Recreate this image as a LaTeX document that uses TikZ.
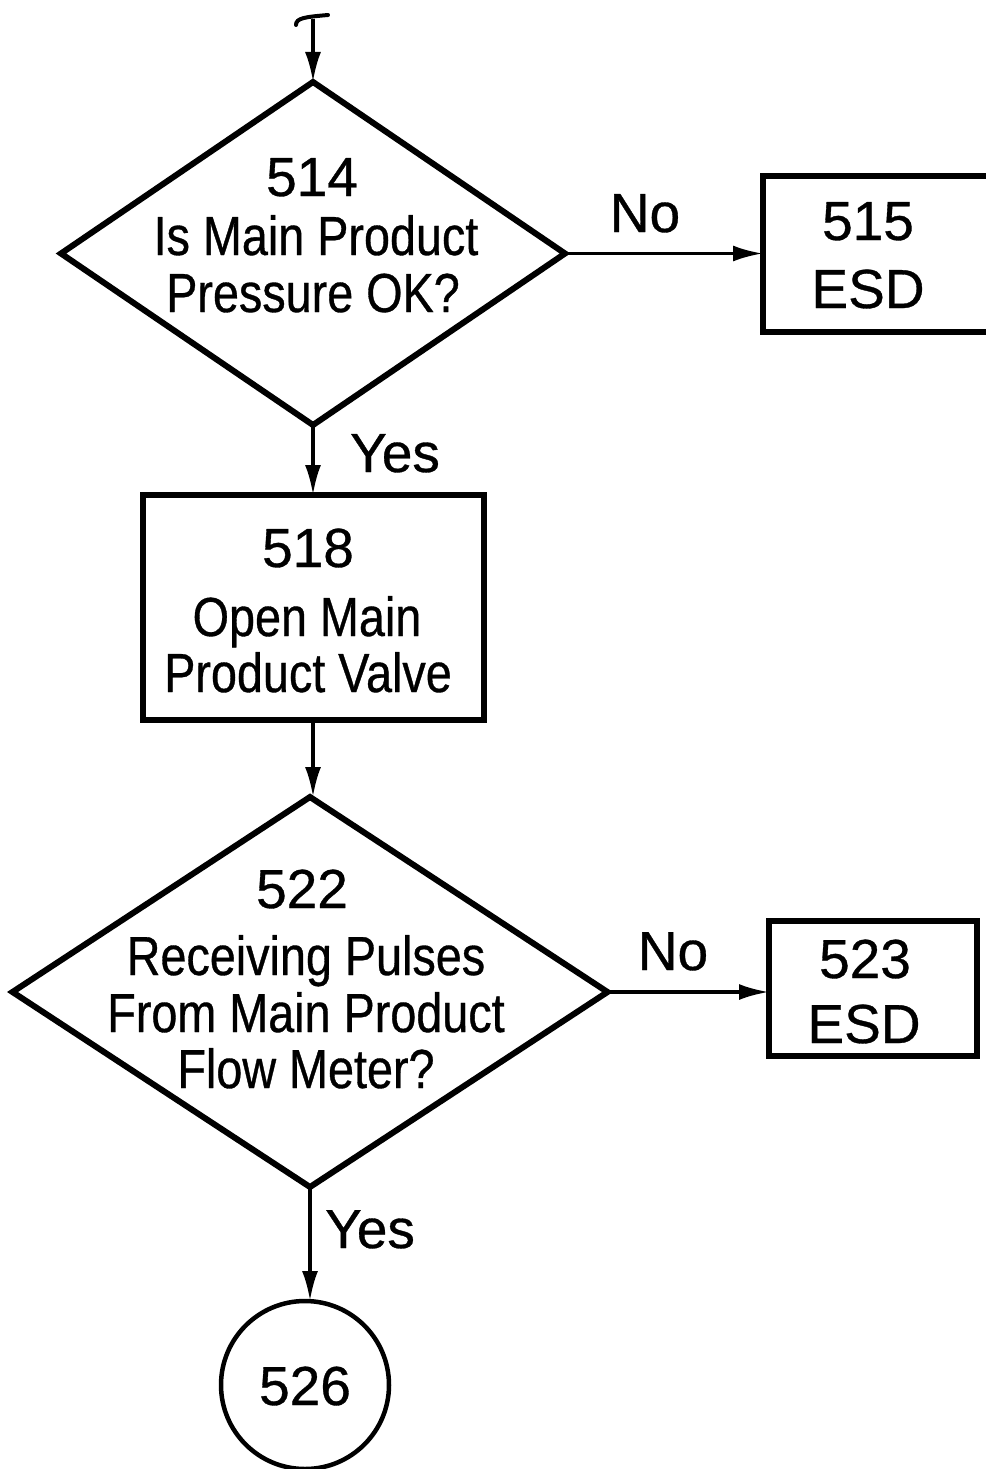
\documentclass[tikz,border=0pt]{standalone}
\usepackage{fontspec}
\setmainfont{Liberation Sans}[FakeBold=0.6]
\newfontfamily\narrowfont{Liberation Sans}[FakeStretch=0.85,FakeBold=0.6]
\usetikzlibrary{shapes.geometric,arrows.meta}
\begin{document}
\begin{tikzpicture}[x=1pt,y=-1pt,
  shapeline/.style={draw,line width=6pt,inner sep=0pt,outer sep=0pt},
  dia/.style={shapeline,diamond},
  boxnode/.style={shapeline,rectangle},
  circnode/.style={draw,line width=4.5pt,circle,inner sep=0pt,outer sep=0pt},
  txt/.style={anchor=base,inner sep=0pt,font=\fontsize{55}{60}\selectfont},
  ntxt/.style={anchor=base,inner sep=0pt,font=\fontsize{55}{60}\selectfont\narrowfont},
  flow/.style={line width=3.5pt,-{Latex[length=30pt,width=16pt]}}
]
\useasboundingbox (0,0) rectangle (985,1469);

% shapes
\node[dia,minimum width=504pt,minimum height=343pt] (d514) at (313,253.5) {};
\node[boxnode,minimum width=240pt,minimum height=156pt] (b515) at (883,254) {};
\node[boxnode,minimum width=341pt,minimum height=225pt] (b518) at (313,607.5) {};
\node[dia,minimum width=595pt,minimum height=390pt] (d522) at (310,992) {};
\node[boxnode,minimum width=208pt,minimum height=135pt] (b523) at (873,988.5) {};
\node[circnode,minimum size=168pt] (c526) at (305,1385) {};

% texts
\node[txt] (t514) at (312,196) {514};
\node[ntxt] (t514a) at (316,255) {Is Main Product};
\node[ntxt] (t514b) at (313,312) {Pressure OK?};
\node[txt] (t515) at (868,240) {515};
\node[txt] (t515b) at (868,308) {ESD};
\node[txt] (t518) at (308,567) {518};
\node[ntxt] (t518a) at (307,636) {Open Main};
\node[ntxt] (t518b) at (308,692) {Product Valve};
\node[txt] (t522) at (302,908) {522};
\node[ntxt] (t522a) at (306,975) {Receiving Pulses};
\node[ntxt] (t522b) at (306,1032) {From Main Product};
\node[ntxt] (t522c) at (306,1088) {Flow Meter?};
\node[txt] (t523) at (865,978) {523};
\node[txt] (t523b) at (864,1043) {ESD};
\node[txt] (t526) at (305,1405) {526};
\node[txt] (no1) at (645,232) {No};
\node[txt] (yes1) at (395,472) {Yes};
\node[txt] (no2) at (673,970) {No};
\node[txt] (yes2) at (370,1248) {Yes};

% entry
\coordinate (start) at (313,19);
\coordinate (barl) at (296,25);
\coordinate (barr) at (328,15);
\draw[line width=4pt,line cap=round] (barl) .. controls (296,18) and (305,17) .. (barr);
\draw[flow] (start) -- (d514.north);

% connectors
\draw[flow] (d514.east) -- (d514.east -| b515.west);
\draw[flow] (d514.south) -- (b518.north);
\draw[flow] (b518.south) -- (d522.north -| b518.south);
\draw[flow] (d522.east) -- (d522.east -| b523.west);
\draw[flow] (d522.south) -- (d522.south |- c526.north);
\end{tikzpicture}
\end{document}
